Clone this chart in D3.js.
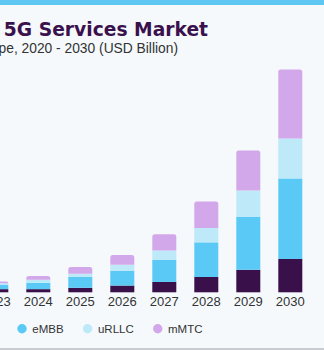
<!DOCTYPE html>
<html>
<head>
<meta charset="utf-8">
<script src="https://cdn.jsdelivr.net/npm/d3@7"></script>
<style>
  html, body { margin: 0; padding: 0; background: #f5f9fc; overflow: hidden; }
  svg { display: block; }
</style>
</head>
<body>
<svg id="chart" width="324" height="350"></svg>
<script>
// Europe 5G services market by type, USD billion
const years = ["2023", "2024", "2025", "2026", "2027", "2028", "2029", "2030"];
const seriesNames = ["FWA", "eMBB", "uRLLC", "mMTC"];
const fwa   = [0.7, 0.7, 1.0, 1.5, 2.3, 3.4, 5.0, 7.4];
const embb  = [1.0, 1.4, 2.4, 3.3, 4.9, 7.7, 11.8, 17.9];
const urllc = [0.3, 0.7, 0.7, 1.3, 2.1, 3.2, 5.8, 8.9];
const mmtc  = [0.4, 0.8, 1.5, 2.2, 3.6, 5.9, 8.9, 15.3];
const colors = ["#391049", "#5bc9f5", "#bde9f9", "#d3a8ea"];
const title = "Europe 5G Services Market";
const subtitle = "Market size, by type, 2020 - 2030 (USD Billion)";

const W = 324, H = 350;
const svg = d3.select("#chart");

// backdrop, top accent and bottom rule
svg.append("rect").attr("width", W).attr("height", H).attr("fill", "#f5f9fc");
svg.append("rect").attr("width", W).attr("height", 5).attr("fill", "#5fc8f2");
svg.append("rect").attr("y", H - 2).attr("width", W).attr("height", 2).attr("fill", "#c9ccd0");

// headings (right-aligned so the visible tail sits in place)
svg.append("text")
  .attr("x", 208).attr("y", 35.5)
  .attr("text-anchor", "end")
  .attr("font-family", "DejaVu Sans, sans-serif")
  .attr("font-weight", "bold")
  .attr("font-size", 18.7)
  .attr("fill", "#3a114d")
  .text(title);
svg.append("text")
  .attr("x", 178).attr("y", 53.3)
  .attr("text-anchor", "end")
  .attr("font-family", "Liberation Sans, Arial, sans-serif")
  .attr("font-size", 13.8)
  .attr("fill", "#333")
  .text(subtitle);

// data table for stacking
const table = years.map((y, i) => ({
  year: y, FWA: fwa[i], eMBB: embb[i], uRLLC: urllc[i], mMTC: mmtc[i]
}));
const stacked = d3.stack().keys(seriesNames)(table);

const x = d3.scaleBand()
  .domain(years)
  .range([-15.7, 302.3])
  .paddingInner(18 / 42)
  .paddingOuter(0);

const y = d3.scaleLinear()
  .domain([0, 50])
  .range([292.3, 67.3]);

const color = d3.scaleOrdinal().domain(seriesNames).range(colors);

// rounded top edge for the uppermost segment
function topRounded(x0, y0, w, h, r) {
  r = Math.min(r, h, w / 2);
  return `M${x0},${y0 + h}V${y0 + r}Q${x0},${y0} ${x0 + r},${y0}` +
         `H${x0 + w - r}Q${x0 + w},${y0} ${x0 + w},${y0 + r}V${y0 + h}Z`;
}

const lastKey = seriesNames[seriesNames.length - 1];
const layers = svg.append("g").selectAll("g")
  .data(stacked).join("g")
  .attr("fill", d => color(d.key));

layers.each(function (layer) {
  const g = d3.select(this);
  if (layer.key === lastKey) {
    g.selectAll("path").data(layer).join("path")
      .attr("d", d => topRounded(x(d.data.year), y(d[1]), x.bandwidth(), y(d[0]) - y(d[1]), 2.5));
  } else {
    g.selectAll("rect").data(layer).join("rect")
      .attr("x", d => x(d.data.year))
      .attr("y", d => y(d[1]))
      .attr("width", x.bandwidth())
      .attr("height", d => y(d[0]) - y(d[1]));
  }
});

// category axis
const xAxis = svg.append("g")
  .attr("transform", "translate(0,292.3)")
  .call(d3.axisBottom(x).tickSize(0).tickPadding(14));
xAxis.select(".domain").remove();
xAxis.selectAll("text")
  .attr("font-family", "Liberation Sans, Arial, sans-serif")
  .attr("font-size", 13)
  .attr("fill", "#333")
  .attr("dy", 0);

// legend: items flow left to right; the second one lands at x = 22
const legend = svg.append("g");
const items = legend.selectAll("g").data(seriesNames).join("g");
items.append("circle").attr("r", 4.7).attr("fill", d => color(d));
items.append("text")
  .attr("x", 10.3).attr("y", 4)
  .attr("font-family", "Liberation Sans, Arial, sans-serif")
  .attr("font-size", 11.5)
  .attr("fill", "#333")
  .text(d => d);
let cx = 0;
const pos = [];
items.each(function () {
  pos.push(cx);
  const tw = d3.select(this).select("text").node().getComputedTextLength();
  cx += 10.3 + tw + 24;
});
items.attr("transform", (d, i) => `translate(${pos[i]},0)`);
legend.attr("transform", `translate(${22 - pos[1]},328.7)`);
</script>
</body>
</html>
